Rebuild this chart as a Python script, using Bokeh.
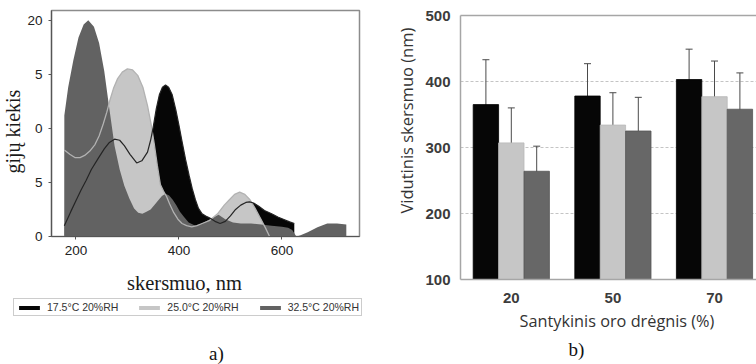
from bokeh.plotting import figure
from bokeh.layouts import row, column
from bokeh.models import (ColumnDataSource, Legend, LegendItem, Title, Label, Whisker,
                          LinearAxis, FixedTicker, Range1d, TeeHead)
from bokeh.embed import file_html
from bokeh.resources import INLINE

# ---------------- (a) fibre diameter distributions ----------------
series_names = ["17.5°C 20%RH", "25.0°C 20%RH", "32.5°C 20%RH"]

x_17 = [177.5, 190, 200, 210, 220, 230, 243, 255, 265, 275, 285, 294, 305, 318, 328,
        339, 345, 350, 356, 362, 368, 374, 380, 387, 394, 400, 406, 413, 420, 426,
        432, 438, 445, 452, 460, 470, 480, 490, 500, 510, 520, 530, 537, 545, 555,
        566, 580, 592, 605, 615, 624]
y_17 = [1.0, 2.3, 3.3, 4.3, 5.2, 6.2, 7.2, 8.1, 8.7, 9.0, 8.9, 8.4, 7.6, 6.8, 7.0,
        7.8, 8.9, 10.1, 11.8, 13.1, 13.8, 14.0, 13.8, 13.1, 11.7, 10.3, 8.8, 7.1, 5.6, 4.4,
        3.4, 2.6, 2.1, 1.9, 1.7, 1.4, 1.2, 1.4, 1.9, 2.5, 2.9, 3.15, 3.2, 3.1, 2.8,
        2.4, 2.1, 1.8, 1.55, 1.35, 1.2]

x_25 = [177.5, 188, 198, 208, 217, 227, 237, 245, 253, 260, 266, 273, 281, 290, 300,
        310, 320, 330, 339, 346, 352, 358, 364, 370, 376, 382, 390, 398, 406, 415,
        425, 435, 445, 460, 475, 488, 498, 508, 518, 528, 538, 548, 558, 568, 576]
y_25 = [8.0, 7.6, 7.3, 7.3, 7.5, 7.9, 8.5, 9.3, 10.4, 11.5, 12.6, 13.7, 14.6, 15.2, 15.5,
        15.4, 14.9, 13.8, 12.1, 10.4, 8.6, 6.6, 4.8, 4.2, 3.7, 3.0, 2.2, 1.6, 1.2, 1.0,
        0.9, 1.0, 1.2, 1.5, 2.1, 2.9, 3.4, 3.9, 4.1, 3.9, 3.4, 2.6, 1.7, 0.8, 0.0]

x_32 = [177.5, 185, 195, 205, 215, 224, 235, 245, 255, 265, 275, 285, 294, 304, 313,
        321, 329, 337, 345, 352, 360, 367, 374, 381, 388, 395, 402, 410, 419, 432,
        445, 460, 477, 490, 505, 520, 540, 560, 580, 600, 612, 620, 628, 635, 650,
        669, 688, 707, 725]
y_32 = [11.2, 13.8, 16.3, 18.4, 19.6, 20.0, 19.4, 17.9, 15.3, 11.8, 8.4, 6.2, 4.7, 3.5, 2.6,
        2.2, 2.1, 2.3, 2.5, 2.9, 3.35, 3.75, 3.95, 3.8, 3.4, 2.9, 2.3, 1.8, 1.3, 1.0,
        1.2, 1.6, 2.0, 1.6, 1.3, 1.2, 1.2, 1.1, 1.0, 0.9, 0.8, 0.6, 0.0, 0.1, 0.4,
        0.86, 1.2, 1.2, 1.1]

a_x_ticks = [200, 400, 600]
a_y_ticks = [0, 5, 10, 15, 20]
a_y_tick_labels = ["0", "5", "0", "5", "20"]
a_x_title = "skersmuo, nm"
a_y_title = "gijų kiekis"

# ---------------- (b) mean diameter vs humidity ----------------
b_categories = ["20", "50", "70"]
b_mean_17 = [365, 378, 403]
b_err_17 = [68, 49, 46]
b_mean_25 = [307, 334, 377]
b_err_25 = [53, 49, 54]
b_mean_32 = [264, 325, 358]
b_err_32 = [38, 51, 55]
b_y_ticks = [100, 200, 300, 400, 500]
b_x_title = "Santykinis oro drėgnis (%)"
b_y_title = "Vidutinis skersmuo (nm)"

COL_BLACK = "#060606"
COL_LIGHT = "#c6c6c6"
COL_DARK = "#626262"


def side_title(text, align, offset, font, size, standoff=0, color="#1a1a1a"):
    return Title(text=text, align=align, offset=offset, standoff=standoff,
                 vertical_align="middle", text_font=font, text_font_size=size,
                 text_font_style="normal", text_color=color)


# ================= left figure (plot area) =================
p1 = figure(width=380, height=262, x_range=Range1d(152.6, 750.6), y_range=Range1d(0, 20.9),
            output_backend="svg", toolbar_location=None,
            min_border_left=48, min_border_right=21, min_border_top=10, min_border_bottom=26)
p1.xgrid.visible = False
p1.ygrid.visible = False
p1.outline_line_color = "#8c8c8c"
p1.outline_line_width = 1.5
p1.background_fill_color = "white"
p1.border_fill_color = "white"

p1.varea(x=x_17, y1=0, y2=y_17, fill_color=COL_BLACK)
p1.varea(x=x_25, y1=0, y2=y_25, fill_color=COL_LIGHT)
p1.varea(x=x_32, y1=0, y2=y_32, fill_color=COL_DARK)
p1.line(x_25, y_25, line_color="#b2b2b2", line_width=1.3)
p1.line(x_17, y_17, line_color="#242424", line_width=1.2)

p1.xaxis.ticker = FixedTicker(ticks=a_x_ticks)
p1.yaxis.ticker = FixedTicker(ticks=a_y_ticks)
p1.yaxis.major_label_overrides = {t: l for t, l in zip(a_y_ticks, a_y_tick_labels)}
for ax in (p1.xaxis[0], p1.yaxis[0]):
    ax.axis_line_color = "#555555"
    ax.axis_line_width = 1.2
    ax.major_tick_line_color = "#555555"
    ax.major_tick_out = 3
    ax.major_tick_in = 0
    ax.minor_tick_line_color = None
    ax.major_label_text_font = "Liberation Sans"
    ax.major_label_text_font_size = "13.5px"
    ax.major_label_text_color = "#222222"
p1.xaxis.major_label_standoff = 6
p1.yaxis.major_label_standoff = 6

p1.add_layout(side_title(a_y_title, "left", 63, "Liberation Serif", "20px", standoff=0), "left")

# ================= left figure (x title, legend, caption) =================
p_leg = figure(width=380, height=102, x_range=Range1d(0, 380), y_range=Range1d(0, 102),
               output_backend="svg", toolbar_location=None,
               min_border_left=0, min_border_right=0, min_border_top=0, min_border_bottom=0)
p_leg.axis.visible = False
p_leg.grid.visible = False
p_leg.title.visible = False
p_leg.outline_line_color = None
p_leg.background_fill_color = "white"
p_leg.border_fill_color = "white"

# legend keys (hidden renderers carrying the same series)
key_black = p_leg.varea(x=x_17, y1=0, y2=y_17, fill_color=COL_BLACK, visible=False)
key_light = p_leg.varea(x=x_25, y1=0, y2=y_25, fill_color=COL_LIGHT, visible=False)
key_dark = p_leg.varea(x=x_32, y1=0, y2=y_32, fill_color=COL_DARK, visible=False)

legend = Legend(items=[LegendItem(label=series_names[0], renderers=[key_black]),
                       LegendItem(label=series_names[1], renderers=[key_light]),
                       LegendItem(label=series_names[2], renderers=[key_dark])],
                orientation="horizontal", location=(13, 48),
                glyph_width=26, glyph_height=5, label_standoff=5, spacing=18,
                padding=2, margin=0, label_height=11,
                border_line_color="#999999", border_line_width=1,
                label_text_font="Liberation Sans", label_text_font_size="10.5px",
                label_text_color="#333333", background_fill_alpha=1,
                inactive_fill_alpha=0)
p_leg.add_layout(legend)

p_leg.add_layout(Label(x=184, y=82, x_units="screen", y_units="screen", text=a_x_title,
                       text_align="center", text_baseline="alphabetic",
                       text_font="Liberation Serif", text_font_size="20.5px",
                       text_color="#1a1a1a"))
p_leg.add_layout(Label(x=216, y=11, x_units="screen", y_units="screen", text="a)",
                       text_align="center", text_baseline="alphabetic",
                       text_font="Liberation Serif", text_font_size="19px",
                       text_color="#111111"))

# ================= right figure =================
px_per_group = 101.6
frame_w2 = 376 - 80
p2 = figure(width=376, height=364, x_range=Range1d(0, frame_w2 / px_per_group),
            y_range=Range1d(100, 500),
            output_backend="svg", toolbar_location=None,
            min_border_left=80, min_border_right=0, min_border_top=15, min_border_bottom=85)
p2.outline_line_color = None
p2.background_fill_color = "white"
p2.border_fill_color = "white"
p2.xgrid.visible = False
p2.ygrid.ticker = FixedTicker(ticks=b_y_ticks)
p2.ygrid.grid_line_color = "#c4c4c4"
p2.ygrid.grid_line_dash = "3 2"

centers = [i + 0.5 for i in range(len(b_categories))]
offsets = [-0.25, 0.0, 0.25]
bar_specs = [(b_mean_17, b_err_17, COL_BLACK, "#000000"),
             (b_mean_25, b_err_25, COL_LIGHT, "#b8b8b8"),
             (b_mean_32, b_err_32, "#676767", "#555555")]
for (means, errs, col, lcol), off in zip(bar_specs, offsets):
    xs = [c + off for c in centers]
    p2.vbar(x=xs, top=means, bottom=100, width=0.25, fill_color=col,
            line_color=lcol, line_width=0.8)
    src = ColumnDataSource(dict(x=xs, upper=[m + e for m, e in zip(means, errs)],
                                lower=[m - e for m, e in zip(means, errs)]))
    p2.add_layout(Whisker(source=src, base="x", upper="upper", lower="lower",
                          line_color="#4a4a4a", line_width=1,
                          upper_head=TeeHead(size=7, line_color="#4a4a4a", line_width=1),
                          lower_head=TeeHead(size=7, line_color="#4a4a4a", line_width=1)))

p2.xaxis.ticker = FixedTicker(ticks=centers)
p2.xaxis.major_label_overrides = {c: l for c, l in zip(centers, b_categories)}
p2.yaxis.ticker = FixedTicker(ticks=b_y_ticks)
for ax in (p2.xaxis[0], p2.yaxis[0]):
    ax.axis_line_color = "#a6a6a6"
    ax.axis_line_width = 1.5
    ax.major_tick_line_color = None
    ax.minor_tick_line_color = None
    ax.major_label_text_font = "Liberation Sans"
    ax.major_label_text_font_style = "bold"
    ax.major_label_text_font_size = "15px"
    ax.major_label_text_color = "#3c3c3c"
p2.yaxis.major_label_standoff = 4
p2.xaxis.major_label_standoff = 7

top_axis = LinearAxis(ticker=FixedTicker(ticks=[]), axis_line_color="#a6a6a6",
                      axis_line_width=1.5, major_tick_line_color=None,
                      minor_tick_line_color=None, major_label_text_font_size="0px")
p2.add_layout(top_axis, "above")

p2.add_layout(side_title(b_y_title, "left", 66, "Open Sans", "16.5px", standoff=8,
                         color="#333333"), "left")
p2.add_layout(side_title(b_x_title, "left", 59, "Open Sans", "16.3px", standoff=6,
                         color="#333333"), "below")
p2.add_layout(side_title("b)", "left", 108, "Liberation Serif", "19px", standoff=4,
                         color="#111111"), "below")

layout = row(column(column(p1), column(p_leg)), column(p2))
open("out.html", "w").write(file_html(layout, INLINE))
